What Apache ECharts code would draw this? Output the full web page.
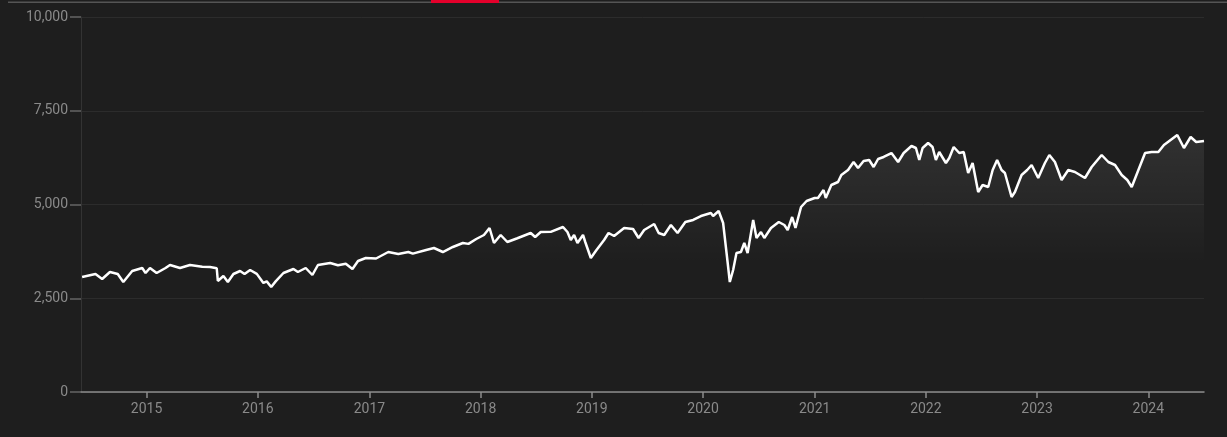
<!DOCTYPE html>
<html><head><meta charset="utf-8">
<script src="https://cdn.jsdelivr.net/npm/echarts@6/dist/echarts.min.js"></script>
<style>html,body{margin:0;padding:0;background:#1e1e1e;}#c{width:1227px;height:437px;}</style>
</head><body><div id="c"></div>
<script>
const years = [2014.42,2014.54,2014.60,2014.67,2014.74,2014.79,2014.87,2014.96,2014.99,2015.03,2015.09,2015.17,2015.21,2015.30,2015.39,2015.50,2015.57,2015.63,2015.64,2015.69,2015.73,2015.78,2015.84,2015.88,2015.93,2015.99,2016.05,2016.08,2016.12,2016.16,2016.23,2016.32,2016.36,2016.43,2016.49,2016.54,2016.65,2016.72,2016.79,2016.85,2016.90,2016.97,2017.06,2017.17,2017.26,2017.35,2017.39,2017.51,2017.58,2017.66,2017.75,2017.84,2017.89,2017.96,2018.03,2018.08,2018.12,2018.18,2018.24,2018.33,2018.45,2018.49,2018.54,2018.63,2018.74,2018.78,2018.81,2018.84,2018.87,2018.92,2018.94,2018.99,2019.04,2019.11,2019.15,2019.20,2019.29,2019.37,2019.42,2019.47,2019.56,2019.60,2019.65,2019.71,2019.77,2019.84,2019.91,2019.98,2020.07,2020.09,2020.14,2020.18,2020.22,2020.24,2020.27,2020.30,2020.34,2020.37,2020.40,2020.45,2020.48,2020.52,2020.55,2020.61,2020.68,2020.73,2020.76,2020.80,2020.83,2020.88,2020.93,2021.00,2021.03,2021.08,2021.10,2021.15,2021.21,2021.24,2021.30,2021.35,2021.39,2021.44,2021.49,2021.53,2021.57,2021.62,2021.69,2021.75,2021.80,2021.87,2021.91,2021.94,2021.97,2022.02,2022.06,2022.09,2022.12,2022.18,2022.21,2022.25,2022.30,2022.34,2022.38,2022.42,2022.47,2022.51,2022.56,2022.60,2022.64,2022.68,2022.71,2022.77,2022.80,2022.86,2022.91,2022.95,2023.01,2023.07,2023.11,2023.16,2023.22,2023.28,2023.34,2023.43,2023.49,2023.58,2023.64,2023.70,2023.76,2023.81,2023.85,2023.91,2023.97,2024.03,2024.09,2024.14,2024.20,2024.26,2024.32,2024.38,2024.43,2024.50];
const values = [3067,3147,3013,3200,3147,2933,3227,3307,3173,3307,3173,3307,3387,3307,3387,3340,3333,3300,2960,3093,2933,3147,3227,3147,3253,3150,2907,2950,2800,2950,3173,3280,3200,3307,3120,3387,3440,3380,3420,3280,3493,3573,3560,3733,3680,3733,3690,3787,3840,3733,3867,3973,3950,4080,4187,4373,3973,4187,4000,4100,4240,4133,4267,4270,4400,4267,4053,4187,3973,4187,4000,3573,3780,4053,4240,4160,4373,4347,4107,4320,4480,4240,4187,4453,4240,4533,4587,4693,4773,4693,4827,4507,3467,2933,3253,3707,3733,3973,3707,4587,4107,4267,4107,4373,4533,4453,4320,4667,4373,4933,5093,5173,5173,5387,5173,5520,5600,5787,5920,6133,5973,6160,6187,6000,6213,6267,6373,6133,6373,6560,6507,6187,6507,6640,6533,6187,6400,6107,6240,6533,6373,6400,5840,6107,5333,5520,5467,5920,6187,5920,5840,5200,5333,5787,5920,6053,5707,6107,6320,6133,5653,5920,5867,5707,6000,6320,6133,6053,5787,5653,5467,5920,6373,6400,6400,6587,6720,6853,6507,6800,6667,6693];
const yTicks = [0,2500,5000,7500,10000];
function yToTs(y){const yr=Math.floor(y);return Date.UTC(yr,0,1)+(y-yr)*365.25*864e5;}
const data = years.map((y,i)=>[yToTs(y),values[i]]);
const chart = echarts.init(document.getElementById('c'));
chart.setOption({
  backgroundColor:'#1e1e1e',
  animation:false,
  grid:{left:81,right:23,top:17,bottom:45},
  graphic:[
    {type:'rect',shape:{x:8,y:1.5,width:1219,height:1.5},style:{fill:'#555'}},
    {type:'rect',shape:{x:431,y:0,width:68,height:3},style:{fill:'#e4002b'}}
  ],
  xAxis:{type:'time',min:yToTs(2014.41),max:yToTs(2024.5),minInterval:300*864e5,maxInterval:370*864e5,splitNumber:10,
    axisLine:{lineStyle:{color:'#8c8c8c',width:1.5}},
    axisTick:{show:true,length:6,lineStyle:{color:'#8c8c8c',width:1.5}},
    axisLabel:{color:'#8a8a8a',fontSize:14,fontFamily:'Roboto',formatter:v=>String(new Date(v).getUTCFullYear()),margin:10},
    splitLine:{show:false}},
  yAxis:{type:'value',min:0,max:10000,interval:2500,
    axisLine:{show:true,lineStyle:{color:'#333'}},
    axisTick:{show:true,length:11,lineStyle:{color:'#666',width:1.5}},
    axisLabel:{color:'#8a8a8a',fontSize:14,fontFamily:'Roboto',margin:13,
      formatter:v=>yTicks.includes(v)?v.toLocaleString('en-US'):''},
    splitLine:{lineStyle:{color:'#2c2c2c'}}},
  series:[{type:'line',data:data,showSymbol:false,smooth:false,
    lineStyle:{color:'#ffffff',width:2.5},
    areaStyle:{color:new echarts.graphic.LinearGradient(0,0,0,1,[
      {offset:0,color:'rgba(255,255,255,0.12)'},{offset:0.5,color:'rgba(255,255,255,0)'},{offset:1,color:'rgba(255,255,255,0)'}])}}]
});
</script></body></html>
